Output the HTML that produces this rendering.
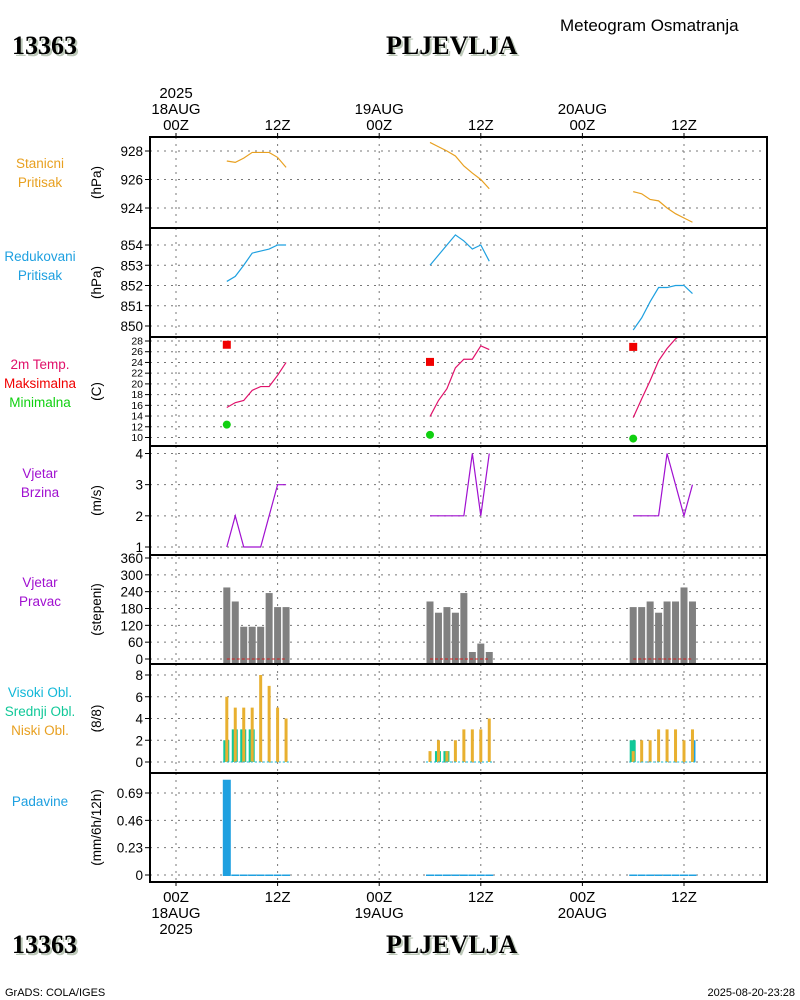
<!DOCTYPE html>
<html><head><meta charset="utf-8"><style>
html,body{margin:0;padding:0;background:#fff;}
svg{display:block;font-family:"Liberation Sans",sans-serif;}
</style></head><body>
<svg id="c" width="800" height="1000" viewBox="0 0 800 1000">
<text x="560" y="31" font-size="17" fill="#000">Meteogram Osmatranja</text>
<text x="14" y="56" font-size="26" font-weight="bold" font-family="Liberation Serif,serif" fill="#bcc8b8">13363</text>
<text x="12" y="54" font-size="26" font-weight="bold" font-family="Liberation Serif,serif" fill="#000">13363</text>
<text x="388" y="56" font-size="26" font-weight="bold" font-family="Liberation Serif,serif" fill="#bcc8b8">PLJEVLJA</text>
<text x="386" y="54" font-size="26" font-weight="bold" font-family="Liberation Serif,serif" fill="#000">PLJEVLJA</text>
<text x="14" y="955" font-size="26" font-weight="bold" font-family="Liberation Serif,serif" fill="#bcc8b8">13363</text>
<text x="12" y="953" font-size="26" font-weight="bold" font-family="Liberation Serif,serif" fill="#000">13363</text>
<text x="388" y="955" font-size="26" font-weight="bold" font-family="Liberation Serif,serif" fill="#bcc8b8">PLJEVLJA</text>
<text x="386" y="953" font-size="26" font-weight="bold" font-family="Liberation Serif,serif" fill="#000">PLJEVLJA</text>
<text x="5" y="996" font-size="11">GrADS: COLA/IGES</text>
<text x="795" y="996" font-size="11" text-anchor="end">2025-08-20-23:28</text>
</svg>
<script>
// ---- data ----
const timeLabelsHours = [0,12,24,36,48,60];
const hoursOffset = [6,7,8,9,10,11,12,13];
const dayStarts = [0,24,48];
const stnP = [[927.3,927.2,927.5,927.9,927.9,927.9,927.55,926.85],[928.6,928.3,928.0,927.65,926.95,926.45,926.0,925.35],[925.15,925.0,924.6,924.5,924.0,923.6,923.3,923.0]];
const redP = [[852.2,852.45,853.0,853.6,853.7,853.8,854.0,854.0],[853.0,853.5,854.0,854.5,854.2,853.8,854.0,853.2],[849.8,850.4,851.2,851.9,851.9,852.0,852.0,851.6]];
const temp = [[15.6,16.5,16.9,18.8,19.5,19.5,21.6,24.0],[13.9,16.9,19.1,23.0,24.6,24.6,27.1,26.4],[13.7,17.2,20.6,24.3,26.6,28.4,29.5,30.0]];
const tMax = [27.3,24.1,26.9];
const tMin = [12.4,10.5,9.8];
const wSpd = [[1,2,1,1,1,2,3,3],[2,2,2,2,2,4,2,4],[2,2,2,2,4,3,2,3]];
const wDir = [[255,205,115,115,115,235,185,185],[205,165,185,165,235,25,55,25],[185,185,205,165,205,205,255,205]];
const cLow = [[6,5,5,5,8,7,5,4],[1,2,1,2,3,3,3,4],[1,2,2,3,3,3,2,3]];
const cMid = [[2,3,3,3,0,0,0,0],[0,1,1,0,0,0,0,0],[2,0,0,0,0,0,0,0]];
const cHigh = [[0,0,0,0,0,0,0,0],[0,0,0,0,0,0,0,0],[0,0,0,0,0,0,0,2]];
const precip = [[0.81,0.01,0.01,0.01,0.01,0.01,0.01,0.01],[0.01,0.01,0.01,0.01,0.01,0.01,0.01,0.01],[0.01,0.01,0.01,0.01,0.01,0.01,0.01,0.01]];

const svg = document.getElementById('c');
const NS = 'http://www.w3.org/2000/svg';
function el(t, a, parent){const e=document.createElementNS(NS,t);for(const k in a)e.setAttribute(k,a[k]);(parent||svg).appendChild(e);return e;}
const X0=150, X1=767;
function X(h){return 176 + h*101.6/12;}
function lin(v0,y0,v1,y1){return v=>y0+(v-v0)*(y1-y0)/(v1-v0);}

const panels = [
 {top:137,bot:228,name:'stanicni',ly:168,sc:lin(928,151,924,208),ticks:[928,926,924],unit:'(hPa)',lab:[['Stanicni','#e8a020'],['Pritisak','#e8a020']]},
 {top:228,bot:337,name:'redukovani',ly:261,sc:lin(854,245,850,326),ticks:[854,853,852,851,850],unit:'(hPa)',lab:[['Redukovani','#1ea0e0'],['Pritisak','#1ea0e0']]},
 {top:337,bot:446,name:'temperature',ly:369,sc:lin(10,437.5,28,341),ticks:[28,26,24,22,20,18,16,14,12,10],unit:'(C)',lab:[['2m Temp.','#e0106a'],['Maksimalna','#f00000'],['Minimalna','#10d010']],small:true},
 {top:446,bot:555,name:'wind-speed',ly:478,sc:lin(1,547,4,453.5),ticks:[4,3,2,1],unit:'(m/s)',lab:[['Vjetar','#a010d0'],['Brzina','#a010d0']]},
 {top:555,bot:664,name:'wind-direction',ly:587,sc:lin(0,659,360,558),ticks:[360,300,240,180,120,60,0],unit:'(stepeni)',lab:[['Vjetar','#a010d0'],['Pravac','#a010d0']]},
 {top:664,bot:773,name:'clouds',ly:697,sc:lin(0,762,8,675),ticks:[8,6,4,2,0],unit:'(8/8)',lab:[['Visoki Obl.','#10b8d8'],['Srednji Obl.','#10c898'],['Niski Obl.','#e8a020']]},
 {top:773,bot:882,name:'precipitation',ly:806,sc:lin(0,875,0.69,793),ticks:[0.69,0.46,0.23,0],unit:'(mm/6h/12h)',lab:[['Padavine','#1ea0e0']]}
];

panels.forEach(p=>{
 const g=el('g',{});
 
 
 timeLabelsHours.forEach(h=>{
  const l=el('line',{x1:X(h),x2:X(h),y1:p.top,y2:p.bot,stroke:'#777','stroke-dasharray':'2,5'},g);
  
  
 });
 p.ticks.forEach(t=>{
  const y=p.sc(t);
  const l=el('line',{x1:X0,x2:X1,y1:y,y2:y,stroke:'#777','stroke-dasharray':'2,5'},g);
  
  
  el('line',{x1:X0-5,x2:X0,y1:y,y2:y,stroke:'#000'},g);
  const tx=el('text',{x:X0-7,y:y+(p.small?3.5:5),'font-size':p.small?10.5:13.5,'text-anchor':'end'},g);
  tx.textContent=String(t);
  
  
 });
 const cy=(p.top+p.bot)/2;
 const u=el('text',{x:0,y:0,'font-size':13.5,'text-anchor':'middle',transform:`translate(${X0-49},${cy}) rotate(-90)`},g);
 u.textContent=p.unit;
 
 
 p.lab.forEach((L,i)=>{
  const t=el('text',{x:40,y:p.ly+i*19,'font-size':13.5,'text-anchor':'middle',fill:L[1]},g);
  t.textContent=L[0];
  
  
 });
 p.g=g;
});

function series(p,arr,color,name){
 const cp=el('clipPath',{id:'clip-'+name});
 el('rect',{x:X0,y:p.top,width:X1-X0,height:p.bot-p.top},cp);
 arr.forEach((d,di)=>{
  const pts=d.map((v,k)=>X(dayStarts[di]+hoursOffset[k])+','+p.sc(v)).join(' ');
  const pl=el('polyline',{points:pts,fill:'none',stroke:color,'stroke-width':1.2,'clip-path':`url(#clip-${name})`},p.g);
  
  
 });
}
series(panels[0],stnP,'#e8a020','station-pressure');
series(panels[1],redP,'#1ea0e0','reduced-pressure');
series(panels[2],temp,'#e0106a','temperature');
series(panels[3],wSpd,'#a010d0','wind-speed');

tMax.forEach((v,i)=>{
 const r=el('rect',{x:X(dayStarts[i]+6)-4,y:panels[2].sc(v)-4,width:8,height:8,fill:'#f00000'},panels[2].g);
 
 
});
tMin.forEach((v,i)=>{
 const c=el('circle',{cx:X(dayStarts[i]+6),cy:panels[2].sc(v),r:4,fill:'#10d010'},panels[2].g);
 
 
});

wDir.forEach((d,di)=>{
 const p=panels[4];
 d.forEach((v,k)=>{
  const x=X(dayStarts[di]+hoursOffset[k]);
  const r=el('rect',{x:x-3.5,y:p.sc(v),width:7,height:p.sc(0)-p.sc(v)+4,fill:'#808080'},p.g);
  
  
 });
 const l=el('line',{x1:X(dayStarts[di]+6),x2:X(dayStarts[di]+13),y1:p.sc(0),y2:p.sc(0),stroke:'#d02020','stroke-dasharray':'3,2'},p.g);
 
 
});

[0,1,2].forEach(di=>{
 const p=panels[5];
 for(let k=0;k<8;k++){
  const x=X(dayStarts[di]+hoursOffset[k]);
  if(cMid[di][k]>0){const r=el('rect',{x:x-3.5,y:p.sc(cMid[di][k]),width:6,height:p.sc(0)-p.sc(cMid[di][k]),fill:'#10c898'},p.g);
   
   }
  if(cHigh[di][k]>0){const r=el('rect',{x:x-1,y:p.sc(cHigh[di][k]),width:4,height:p.sc(0)-p.sc(cHigh[di][k]),fill:'#1ea0e0'},p.g);
   
   }
  const r=el('rect',{x:x-1.5,y:p.sc(cLow[di][k]),width:3,height:p.sc(0)-p.sc(cLow[di][k]),fill:'#e8b030'},p.g);
  
  
 }
 const l=el('line',{x1:X(dayStarts[di]+6)-4,x2:X(dayStarts[di]+13)+4,y1:p.sc(0),y2:p.sc(0),stroke:'#10b8d8','stroke-dasharray':'2,2'},p.g);
 
 
});

precip.forEach((d,di)=>{
 const p=panels[6];
 d.forEach((v,k)=>{
  const x=X(dayStarts[di]+hoursOffset[k]);
  const h=Math.max(1.5,p.sc(0)-p.sc(v));
  const r=el('rect',{x:x-4,y:p.sc(0)-h+1,width:8,height:h,fill:'#1ea0e0'},p.g);
  
  
 });
});

panels.forEach(p=>{
 const r=el('rect',{x:X0,y:p.top,width:X1-X0,height:p.bot-p.top,fill:'none',stroke:'#000','stroke-width':2});
 
 
});

const topLabels=[['2025','18AUG','00Z'],['12Z'],['19AUG','00Z'],['12Z'],['20AUG','00Z'],['12Z']];
const botLabels=[['00Z','18AUG','2025'],['12Z'],['00Z','19AUG'],['12Z'],['00Z','20AUG'],['12Z']];
timeLabelsHours.forEach((h,i)=>{
 const x=X(h);
 el('line',{x1:x,x2:x,y1:133,y2:137,stroke:'#000'});
 el('line',{x1:x,x2:x,y1:882,y2:886,stroke:'#000'});
 const tl=topLabels[i];
 tl.forEach((s,j)=>{
  const t=el('text',{x:x,y:130-(tl.length-1-j)*16,'font-size':15,'text-anchor':'middle'});
  t.textContent=s;
  
  
 });
 botLabels[i].forEach((s,j)=>{
  const t=el('text',{x:x,y:902+j*16,'font-size':15,'text-anchor':'middle'});
  t.textContent=s;
  
  
 });
});
</script>
</body></html>
